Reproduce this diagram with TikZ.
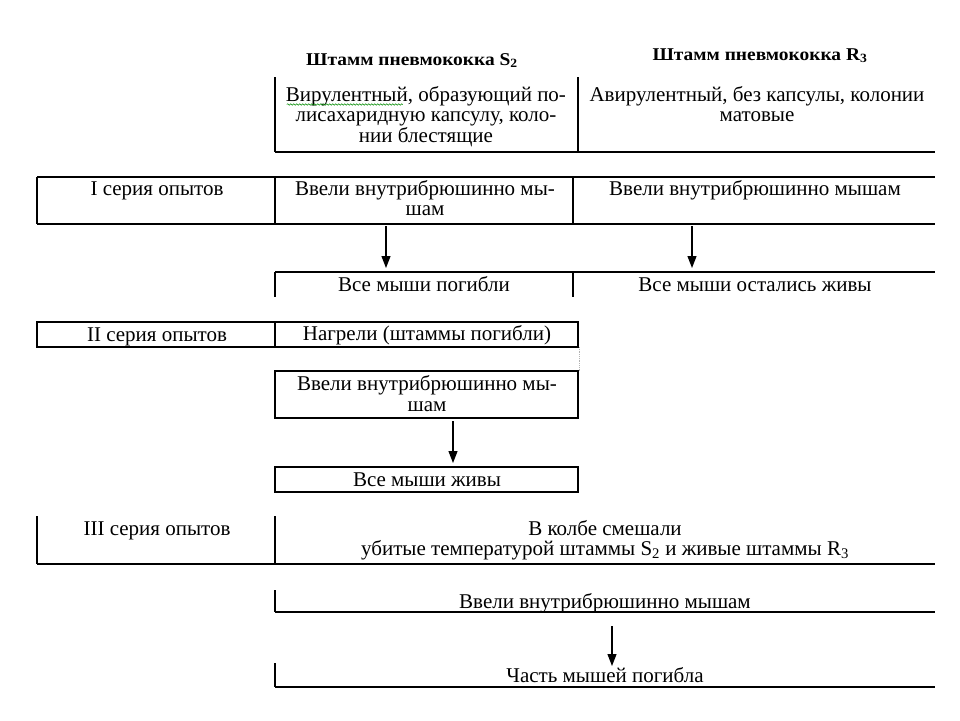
\documentclass[tikz,border=0pt]{standalone}
\usepackage{fontspec}
\usepackage{graphicx}
\setmainfont{Liberation Serif}
\usetikzlibrary{arrows.meta,decorations.pathmorphing}
\newcommand{\hdrtext}[1]{\scalebox{1.08}[1]{\fontsize{18}{20}\selectfont\bfseries #1}}
\begin{document}
\begin{tikzpicture}[x=1pt,y=-1pt,
  ln/.style={line width=1.1pt},
  txt/.style={font=\fontsize{21}{20.5}\selectfont, inner sep=0pt, anchor=base},
  hdr/.style={inner sep=0pt, anchor=base},
  arr/.style={line width=1.2pt,-{Triangle[length=12pt,width=9pt]}},
  wavy/.style={green!55!black, line width=0.5pt, decorate, decoration={snake,amplitude=0.8pt,segment length=3pt}}]
\useasboundingbox[fill=white] (0,0) rectangle (960,720);

% header
\node[hdr] (hS) at (412,65) {\hdrtext{Штамм пневмококка S\textsubscript{2}}};
\node[hdr] (hR) at (760,60) {\hdrtext{Штамм пневмококка R\textsubscript{3}}};
\node[txt] (dS1) at (426,101) {Вирулентный, образующий по-};
\node[txt] (dS2) at (426,121.5) {лисахаридную капсулу, коло-};
\node[txt] (dS3) at (426,142) {нии блестящие};
\node[txt] (dR1) at (757,101) {Авирулентный, без капсулы, колонии};
\node[txt] (dR2) at (757,121.5) {матовые};
\draw[wavy] (dS1.base west) ++(1,3.5) -- ++(116,0);
\draw[ln] (275,77) -- (275,152);
\draw[ln] (578,77) -- (578,152);
\draw[ln] (275,152) -- (935,152);

% series I
\draw[ln] (37,177) -- (935,177);
\draw[ln] (37,224) -- (935,224);
\draw[ln] (37,177) -- (37,224);
\draw[ln] (275,177) -- (275,224);
\draw[ln] (573,177) -- (573,224);
\node[txt] (s1) at (157,195) {I серия опытов};
\node[txt] (s1a) at (425,195) {Ввели внутрибрюшинно мы-};
\node[txt] (s1a2) at (425,215.5) {шам};
\node[txt] (s1b) at (755,195) {Ввели внутрибрюшинно мышам};
\coordinate (a1s) at (386,226);
\coordinate (a1e) at (386,268);
\coordinate (a2s) at (692,226);
\coordinate (a2e) at (692,268);
\draw[arr] (a1s) -- (a1e);
\draw[arr] (a2s) -- (a2e);
\draw[ln] (275,272) -- (935,272);
\draw[ln] (275,272) -- (275,297);
\draw[ln] (573,272) -- (573,297);
\node[txt] (r1a) at (424,291) {Все мыши погибли};
\node[txt] (r1b) at (755,291) {Все мыши остались живы};

% series II
\draw[ln] (37,322) rectangle (578,347);
\draw[ln] (275,322) -- (275,347);
\node[txt] (s2) at (157,341) {II серия опытов};
\node[txt] (s2a) at (427,340) {Нагрели (штаммы погибли)};
\draw[gray!60, densely dotted, line width=0.8pt] (579,347) -- (579,371);
\draw[ln] (275,371) rectangle (578,418);
\node[txt] (s2b) at (427,390) {Ввели внутрибрюшинно мы-};
\node[txt] (s2b2) at (427,411) {шам};
\coordinate (a3s) at (453,421);
\coordinate (a3e) at (453,463);
\draw[arr] (a3s) -- (a3e);
\draw[ln] (275,467) rectangle (578,492);
\node[txt] (r2) at (427,486) {Все мыши живы};

% series III
\draw[ln] (37,516) -- (37,564);
\draw[ln] (275,516) -- (275,564);
\draw[ln] (37,564) -- (935,564);
\node[txt] (s3) at (157,535) {III серия опытов};
\node[txt] (s3a) at (605,535) {В колбе смешали};
\node[txt] (s3a2) at (605,555.5) {убитые температурой штаммы S\textsubscript{2} и живые штаммы R\textsubscript{3}};
\draw[ln] (275,590) -- (275,612);
\draw[ln] (275,612) -- (935,612);
\node[txt] (s3b) at (605,608) {Ввели внутрибрюшинно мышам};
\coordinate (a4s) at (612,626);
\coordinate (a4e) at (612,666);
\draw[arr] (a4s) -- (a4e);
\draw[ln] (275,663) -- (275,687);
\draw[ln] (275,687) -- (935,687);
\node[txt] (r3) at (605,682) {Часть мышей погибла};
\end{tikzpicture}
\end{document}
